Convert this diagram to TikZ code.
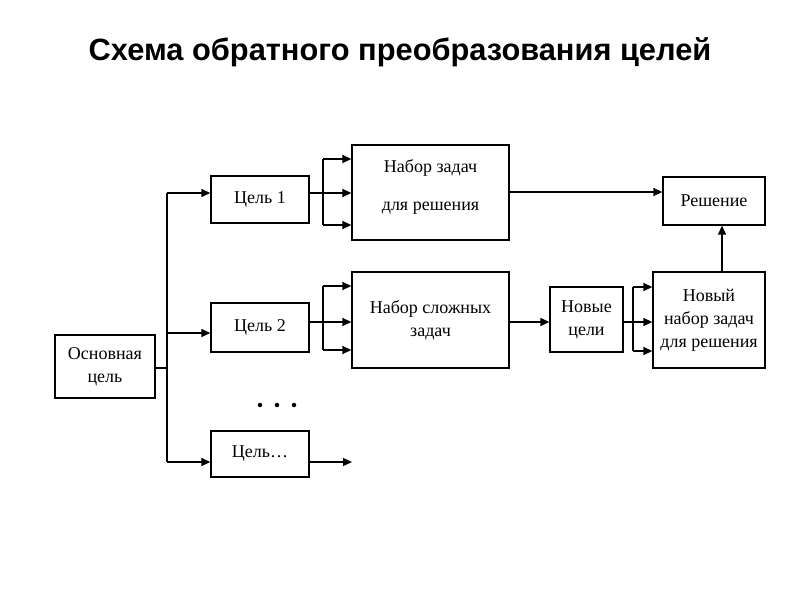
\documentclass[tikz,border=0pt]{standalone}
\usepackage{fontspec}
\setmainfont{Liberation Serif}
\newfontfamily\titlefont{Liberation Sans}
\usetikzlibrary{arrows.meta}
\begin{document}
\begin{tikzpicture}[x=1pt,y=-1pt,
  box/.style={draw, line width=1.3pt, inner sep=0pt, font=\fontsize{18}{23}\selectfont, align=center},
  conn/.style={line width=1.3pt},
  arr/.style={line width=1.3pt, -{Triangle[length=9pt,width=8pt]}},
  dot/.style={fill, circle, inner sep=0pt, minimum size=4.5pt}]
\useasboundingbox (0,0) rectangle (800,600);
\fill[white] (0,0) rectangle (800,600);
\node[font=\titlefont\bfseries\fontsize{30.8}{34}\selectfont] (title) at (400,52) {Схема обратного преобразования целей};
% boxes
\node[box, minimum width=100pt, minimum height=63pt] (main) at (105,366.5) {Основная\\цель};
\node[box, minimum width=98pt, minimum height=47pt] (g1) at (260,199.5) {Цель 1};
\node[box, minimum width=98pt, minimum height=49pt] (g2) at (260,327.5) {Цель 2};
\node[box, minimum width=98pt, minimum height=46pt] (gn) at (260,454) {Цель\dots};
\node[box, minimum width=157pt, minimum height=95pt, text depth=15pt] (s1) at (430.5,192.5) {Набор задач\\[15pt]для решения};
\node[box, minimum width=157pt, minimum height=96pt] (s2) at (430.5,320) {Набор сложных\\задач};
\node[box, minimum width=73pt, minimum height=65pt] (ng) at (586.5,319.5) {Новые\\цели};
\node[box, minimum width=112pt, minimum height=96pt] (ns) at (709,320) {Новый\\набор задач\\для решения};
\node[box, minimum width=102pt, minimum height=48pt] (sol) at (714,201) {Решение};
\node[dot] (d1) at (260,405) {};
\node[dot] (d2) at (277,405) {};
\node[dot] (d3) at (294,405) {};
% trunk
\coordinate (t0) at (167,368);
\draw[conn] (main.east |- t0) -- (t0);
\draw[arr] (167,193) -- (g1.west |- 0,193);
\draw[conn] (167,193) -- (167,462);
\draw[arr] (167,333) -- (g2.west |- 0,333);
\draw[arr] (167,462) -- (gn.west |- 0,462);
% fork g1 -> s1
\draw[conn] (g1.east |- 0,193) -- (323,193);
\draw[conn] (323,159) -- (323,225);
\foreach \y in {159,193,225} \draw[arr] (323,\y) -- (s1.west |- 0,\y);
% fork g2 -> s2
\draw[conn] (g2.east |- 0,322) -- (323,322);
\draw[conn] (323,286) -- (323,350);
\foreach \y in {286,322,350} \draw[arr] (323,\y) -- (s2.west |- 0,\y);
% gn output
\draw[arr] (gn.east |- 0,462) -- (352,462);
% s1 -> sol
\draw[arr] (s1.east |- 0,192) -- (sol.west |- 0,192);
% s2 -> ng
\draw[arr] (s2.east |- 0,322) -- (ng.west |- 0,322);
% fork ng -> ns
\draw[conn] (ng.east |- 0,322) -- (633,322);
\draw[conn] (633,287) -- (633,351);
\foreach \y in {287,322,351} \draw[arr] (633,\y) -- (ns.west |- 0,\y);
% ns -> sol
\draw[arr] (ns.north -| 722,0) -- (sol.south -| 722,0);
\end{tikzpicture}
\end{document}
